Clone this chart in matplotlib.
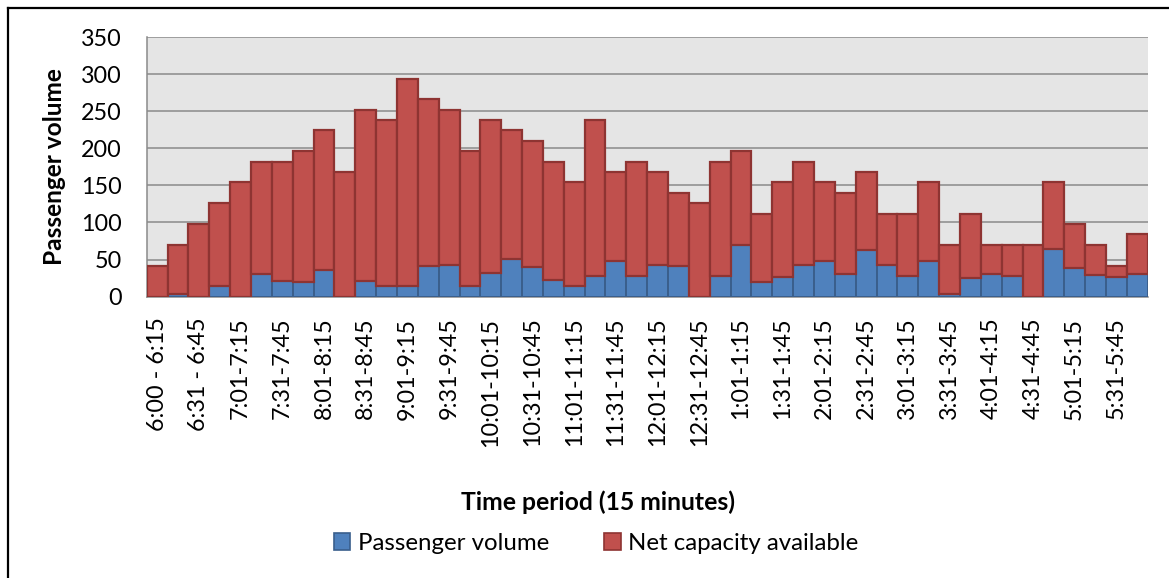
import matplotlib
matplotlib.use("Agg")
import matplotlib.pyplot as plt
from matplotlib.lines import Line2D
from matplotlib.patches import Patch
import numpy as np

# Passenger volume and remaining capacity for each 15-minute period (6:00 to 6:00)
passenger_volume = [0, 3, 0, 14, 0, 30, 21, 20, 36, 0,
                    21, 14, 15, 42, 43, 15, 32, 51, 40, 22,
                    15, 28, 48, 28, 43, 42, 0, 28, 70, 20,
                    27, 43, 48, 30, 63, 43, 28, 48, 3, 25,
                    31, 28, 0, 64, 39, 29, 27, 30]
net_capacity = [42, 67, 98, 112, 154, 152, 161, 176, 188, 168,
                231, 224, 279, 224, 209, 181, 206, 173, 170, 160,
                139, 210, 120, 154, 125, 98, 126, 154, 126, 92,
                127, 139, 106, 110, 105, 69, 84, 106, 67, 87,
                39, 42, 70, 90, 59, 41, 15, 54]
tick_labels = ["6:00 - 6:15", "6:31 - 6:45", "7:01-7:15", "7:31-7:45",
               "8:01-8:15", "8:31-8:45", "9:01-9:15", "9:31-9:45",
               "10:01-10:15", "10:31-10:45", "11:01-11:15", "11:31-11:45",
               "12:01-12:15", "12:31-12:45", "1:01-1:15", "1:31-1:45",
               "2:01-2:15", "2:31-2:45", "3:01-3:15", "3:31-3:45",
               "4:01-4:15", "4:31-4:45", "5:01-5:15", "5:31-5:45"]
y_ticks = [0, 50, 100, 150, 200, 250, 300, 350]

FONT = "Lato"
BLUE, BLUE_EDGE = "#4F81BD", "#3A5F8C"
RED, RED_EDGE = "#C0504D", "#8E3432"

W, H = 1169, 578
fig = plt.figure(figsize=(W / 100, H / 100), dpi=100)
fig.patch.set_facecolor("white")

left, right, top, bottom = 146.7, 1147.7, 37.0, 296.7
ax = fig.add_axes([left / W, 1 - bottom / H, (right - left) / W, (bottom - top) / H])
ax.set_facecolor("#E5E5E5")

x = np.arange(len(passenger_volume))
pv = np.array(passenger_volume)
nc = np.array(net_capacity)

ax.bar(x, pv, width=1.0, color=BLUE, edgecolor=BLUE_EDGE,
       linewidth=[1.4 if v > 0 else 0 for v in pv], zorder=3)
ax.bar(x, nc, bottom=pv, width=1.0, color=RED, edgecolor=RED_EDGE,
       linewidth=1.6, zorder=3)

ax.set_xlim(-0.5, len(x) - 0.5)
ax.set_ylim(0, 350)
ax.set_yticks(y_ticks)
ax.set_yticklabels([str(v) for v in y_ticks], fontsize=16.8, family=FONT)
ax.yaxis.grid(True, color="#8A8A8A", linewidth=1.1, zorder=1)
ax.set_axisbelow(True)
ax.tick_params(axis="y", length=0, pad=18)

ax.set_xticks(x[::2])
ax.set_xticklabels(tick_labels, rotation=90, fontsize=16.8, family=FONT,
                   va="top", ha="center")
ax.tick_params(axis="x", length=0, pad=15)

for side in ("top", "right"):
    ax.spines[side].set_visible(False)
for side in ("left", "bottom"):
    ax.spines[side].set_color("#8A8A8A")
    ax.spines[side].set_linewidth(1.1)

ax.set_ylabel("Passenger volume", fontsize=17.6, family=FONT,
              fontweight="bold", labelpad=11)

fig.text(598 / W, 1 - 502 / H, "Time period (15 minutes)", fontsize=17.8,
         family=FONT, fontweight="bold", ha="center", va="center")

handles = [Patch(facecolor=BLUE, edgecolor=BLUE_EDGE, linewidth=1.2),
           Patch(facecolor=RED, edgecolor=RED_EDGE, linewidth=1.2)]
fig.legend(handles, ["Passenger volume", "Net capacity available"],
           loc="center", bbox_to_anchor=(596 / W, 1 - 543 / H), ncol=2,
           frameon=False, prop={"family": FONT, "size": 17.3},
           handlelength=0.7, handleheight=0.7, handletextpad=0.3,
           columnspacing=2.3)

# Outer frame of the chart area
fig.add_artist(Line2D([7.5 / W, 7.5 / W], [0, 1 - 7.5 / H],
                      transform=fig.transFigure, color="black", linewidth=1.6))
fig.add_artist(Line2D([7.5 / W, 1], [1 - 7.5 / H, 1 - 7.5 / H],
                      transform=fig.transFigure, color="black", linewidth=1.6))

fig.savefig("out.png", dpi=100)
